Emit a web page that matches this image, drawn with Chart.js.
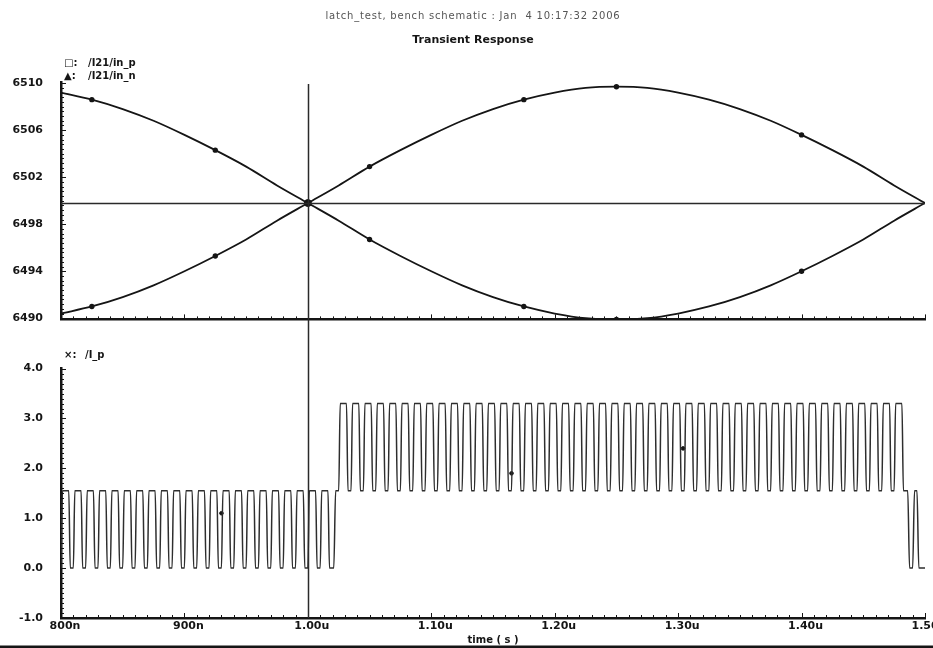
<!DOCTYPE html>
<html>
<head>
<meta charset="utf-8">
<title>Transient Response</title>
<script src="https://cdn.jsdelivr.net/npm/chart.js@4.4.1/dist/chart.umd.min.js"></script>
<style>
html, body { margin: 0; padding: 0; background: #fff; }
#wrap { position: relative; width: 933px; height: 648px; overflow: hidden; }
canvas { position: absolute; left: 0; }
#topChart { top: 0; }
#botChart { top: 344px; }
</style>
</head>
<body>
<div id="wrap">
  <canvas id="topChart" width="933" height="344"></canvas>
  <canvas id="botChart" width="933" height="304"></canvas>
</div>
<script>
// time in ns
const sineTimes = [800, 825, 850, 875, 900, 925, 950, 975, 1000, 1025, 1050, 1075, 1100, 1125, 1150,
  1175, 1200, 1225, 1250, 1275, 1300, 1325, 1350, 1375, 1400, 1425, 1450, 1475, 1500];
const inP = [6490.4, 6491.0, 6491.8, 6492.8, 6494.0, 6495.3, 6496.7, 6498.3, 6499.8, 6501.3, 6502.9,
  6504.3, 6505.6, 6506.8, 6507.8, 6508.6, 6509.2, 6509.6, 6509.7, 6509.6, 6509.2, 6508.6, 6507.8,
  6506.8, 6505.6, 6504.3, 6502.9, 6501.3, 6499.8];
const inN = [6509.2, 6508.6, 6507.8, 6506.8, 6505.6, 6504.3, 6502.9, 6501.3, 6499.8, 6498.3, 6496.7,
  6495.3, 6494.0, 6492.8, 6491.8, 6491.0, 6490.4, 6490.0, 6489.9, 6490.0, 6490.4, 6491.0, 6491.8,
  6492.8, 6494.0, 6495.3, 6496.7, 6498.3, 6499.8];
const markIdx = [1, 5, 10, 15, 18, 24];
const cursorTime = 1000;
const crossLevel = 6499.8;

const xTicks = [800, 900, 1000, 1100, 1200, 1300, 1400, 1500];
const xTickLabels = ['800n', '900n', '1.00u', '1.10u', '1.20u', '1.30u', '1.40u', '1.50u'];
const topTicks = [6490, 6494, 6498, 6502, 6506, 6510];
const botTicks = [-1, 0, 1, 2, 3, 4];
const botTickLabels = ['-1.0', '0.0', '1.0', '2.0', '3.0', '4.0'];

// /I_p pulse train
const lowLevel = 0, midLevel = 1.55, highLevel = 3.3;
const lowPulseStarts = [800, 810, 820, 830, 840, 850, 860, 870, 880, 890, 900, 910, 920, 930, 940,
  950, 960, 970, 980, 990, 1000, 1010];
const stepUpAt = 1021;
const highPulseStarts = [1025, 1035, 1045, 1055, 1065, 1075, 1085, 1095, 1105, 1115, 1125, 1135,
  1145, 1155, 1165, 1175, 1185, 1195, 1205, 1215, 1225, 1235, 1245, 1255, 1265, 1275, 1285, 1295,
  1305, 1315, 1325, 1335, 1345, 1355, 1365, 1375, 1385, 1395, 1405, 1415, 1425, 1435, 1445, 1455,
  1465, 1475];
const tailPoints = [[1486, 1.55], [1487.5, 0], [1490, 0], [1491.5, 1.55], [1493.5, 1.55], [1495, 0], [1500, 0]];
const pulseMarks = [[930, 1.1], [1165, 1.9], [1304, 2.4]];

const FONT = '"DejaVu Sans", "Liberation Sans", sans-serif';
const INK = '#151515';

function pulseTrain(starts, base, top) {
  const pts = [];
  starts.forEach(function(s) {
    pts.push({x: s, y: base}, {x: s + 1.2, y: top}, {x: s + 6.3, y: top}, {x: s + 7.5, y: base});
  });
  return pts;
}

const ipPoints = [].concat(
  pulseTrain(lowPulseStarts, lowLevel, midLevel),
  [{x: stepUpAt, y: lowLevel}, {x: stepUpAt + 1.5, y: midLevel}],
  pulseTrain(highPulseStarts, midLevel, highLevel),
  tailPoints.map(p => ({x: p[0], y: p[1]}))
);

// inward tick marks along left and bottom axes
const axisTicks = {
  id: 'axisTicks',
  afterDatasetsDraw(chart, args, o) {
    const {ctx, chartArea: a, scales: {x, y}} = chart;
    ctx.save();
    ctx.strokeStyle = INK;
    ctx.lineWidth = 1;
    ctx.beginPath();
    for (let i = 0; i <= 70; i++) {
      const px = Math.round(x.getPixelForValue(800 + i * 10)) + 0.5;
      const len = i % 10 === 0 ? 5 : 3;
      ctx.moveTo(px, a.bottom);
      ctx.lineTo(px, a.bottom - len);
    }
    for (let i = 0; i <= 50; i++) {
      const py = Math.round(y.getPixelForValue(o.yFrom + i * o.yStep)) + 0.5;
      const len = i % 10 === 0 ? 5 : 3;
      ctx.moveTo(a.left, py);
      ctx.lineTo(a.left + len, py);
    }
    ctx.stroke();
    ctx.restore();
  }
};

// cursor lines, text labels
const decor = {
  id: 'decor',
  afterDatasetsDraw(chart, args, o) {
    const {ctx, chartArea: a, scales: {x, y}} = chart;
    const cx = Math.round(x.getPixelForValue(cursorTime)) + 0.5;
    ctx.save();
    ctx.strokeStyle = '#2a2a2a';
    ctx.lineWidth = 1.5;
    ctx.beginPath();
    if (o.panel === 'top') {
      ctx.moveTo(cx, a.top + 2);
      ctx.lineTo(cx, chart.height);
      const cy = Math.round(y.getPixelForValue(crossLevel)) + 0.5;
      ctx.moveTo(a.left, cy);
      ctx.lineTo(a.right, cy);
    } else {
      ctx.moveTo(cx, 0);
      ctx.lineTo(cx, a.bottom);
    }
    ctx.stroke();

    ctx.fillStyle = INK;
    ctx.textBaseline = 'middle';
    ctx.textAlign = 'left';
    ctx.font = 'bold 10px ' + FONT;
    if (o.panel === 'top') {
      ctx.fillText('□:', 64, 63);
      ctx.fillText('/I21/in_p', 88, 63);
      ctx.fillText('▲:', 64, 76);
      ctx.fillText('/I21/in_n', 88, 76);
      ctx.textAlign = 'center';
      ctx.fillStyle = '#555';
      ctx.font = '10px ' + FONT;
      ctx.letterSpacing = '0.8px';
      ctx.fillText('latch_test, bench schematic : Jan  4 10:17:32 2006', 473, 16);
      ctx.letterSpacing = '0px';
      ctx.fillStyle = INK;
      ctx.font = 'bold 11px ' + FONT;
      ctx.fillText('Transient Response', 473, 40);
    } else {
      ctx.fillText('×:', 64, 11);
      ctx.fillText('/I_p', 85, 11);
      ctx.fillRect(0, 301.5, chart.width, 2.5);
    }
    ctx.restore();
  }
};

function xAxis(showLabels) {
  return {
    type: 'linear',
    position: 'bottom',
    min: 800,
    max: 1500,
    afterBuildTicks: s => { s.ticks = xTicks.map(v => ({value: v})); },
    afterFit: s => { s.height = showLabels ? 30 : 18; s.paddingLeft = 0; s.paddingRight = 0; },
    grid: {display: false, drawTicks: false},
    border: {display: true, color: INK, width: 2.5},
    ticks: {
      display: showLabels,
      autoSkip: false,
      maxRotation: 0,
      padding: 2,
      labelOffset: 4,
      color: INK,
      font: {family: FONT, size: 11, weight: 'bold'},
      callback: (v, i) => xTickLabels[i]
    },
    title: {
      display: showLabels,
      text: 'time ( s )',
      color: INK,
      font: {family: FONT, size: 10, weight: 'bold'},
      padding: {top: 0, bottom: 2}
    }
  };
}

function yAxis(min, max, ticks, labels) {
  return {
    type: 'linear',
    min: min,
    max: max,
    afterBuildTicks: s => { s.ticks = ticks.map(v => ({value: v})); },
    afterFit: s => { s.width = 61; },
    grid: {display: false, drawTicks: false},
    border: {display: true, color: INK, width: 2.5},
    ticks: {
      autoSkip: false,
      padding: 18,
      color: INK,
      font: {family: FONT, size: 11, weight: 'bold'},
      callback: (v, i) => labels[i]
    }
  };
}

const baseOpts = {
  responsive: false,
  animation: false,
  events: [],
  plugins: {legend: {display: false}, tooltip: {enabled: false}}
};

new Chart(document.getElementById('topChart'), {
  type: 'line',
  data: {
    datasets: [
      {
        label: '/I21/in_p',
        data: sineTimes.map((t, i) => ({x: t, y: inP[i]})),
        borderColor: INK,
        backgroundColor: INK,
        borderWidth: 1.8,
        cubicInterpolationMode: 'monotone',
        pointRadius: inP.map((v, i) => markIdx.includes(i) ? 1.8 : 0)
      },
      {
        label: '/I21/in_n',
        data: sineTimes.map((t, i) => ({x: t, y: inN[i]})),
        borderColor: INK,
        backgroundColor: INK,
        borderWidth: 1.8,
        cubicInterpolationMode: 'monotone',
        pointRadius: inN.map((v, i) => markIdx.includes(i) ? 1.8 : 0)
      },
      {
        label: 'cross',
        data: [{x: cursorTime, y: crossLevel}],
        showLine: false,
        pointRadius: 3.5,
        backgroundColor: INK,
        borderColor: INK
      }
    ]
  },
  options: Object.assign({}, baseOpts, {
    layout: {padding: {top: 82, right: 8, left: 0, bottom: 0}},
    scales: {
      x: xAxis(false),
      y: yAxis(6489.9, 6510.1, topTicks, topTicks.map(String))
    },
    plugins: Object.assign({}, baseOpts.plugins, {
      axisTicks: {yFrom: 6490, yStep: 0.4},
      decor: {panel: 'top'}
    })
  }),
  plugins: [axisTicks, decor]
});

new Chart(document.getElementById('botChart'), {
  type: 'line',
  data: {
    datasets: [
      {
        label: '/I_p',
        data: ipPoints,
        borderColor: '#2e2e2e',
        borderWidth: 1.5,
        cubicInterpolationMode: 'monotone',
        pointRadius: 0
      },
      {
        label: 'marks',
        data: pulseMarks.map(p => ({x: p[0], y: p[1]})),
        showLine: false,
        pointRadius: 1.8,
        backgroundColor: INK,
        borderColor: INK
      }
    ]
  },
  options: Object.assign({}, baseOpts, {
    layout: {padding: {top: 18, right: 8, left: 0, bottom: 0}},
    scales: {
      x: xAxis(true),
      y: yAxis(-1, 4, botTicks, botTickLabels)
    },
    plugins: Object.assign({}, baseOpts.plugins, {
      axisTicks: {yFrom: -1, yStep: 0.1},
      decor: {panel: 'bottom'}
    })
  }),
  plugins: [axisTicks, decor]
});
</script>
</body>
</html>
